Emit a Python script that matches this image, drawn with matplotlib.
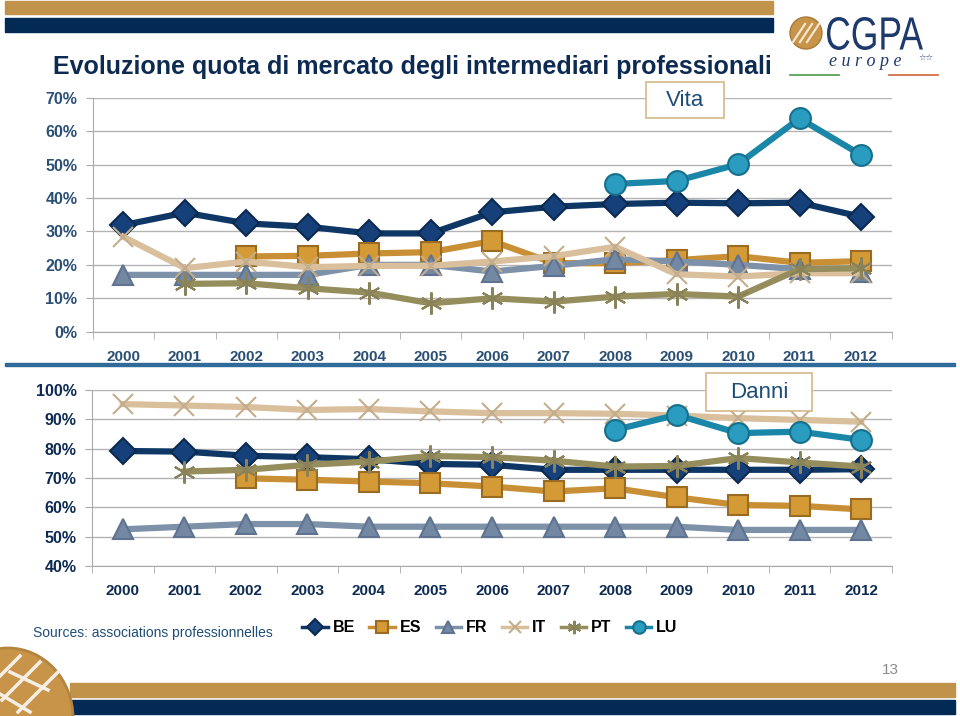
import numpy as np
import matplotlib
matplotlib.use("Agg")
import matplotlib.pyplot as plt
from matplotlib.patches import Rectangle, Ellipse, PathPatch
from matplotlib.textpath import TextPath
from matplotlib.font_manager import FontProperties
from matplotlib.transforms import Affine2D

plt.rcParams['font.family'] = ['Liberation Sans', 'DejaVu Sans']

years = [str(y) for y in range(2000, 2013)]
nan = np.nan

# Vita (quota %)
vita_be = [31.9, 35.6, 32.4, 31.4, 29.4, 29.4, 35.7, 37.4, 38.2, 38.6, 38.4, 38.6, 34.4]
vita_es = [nan, nan, 22.5, 22.7, 23.4, 23.8, 27.1, 20.5, 20.5, 21.4, 22.6, 20.6, 21.1]
vita_fr = [17.0, 17.0, 17.0, 17.0, 20.0, 20.0, 18.0, 19.7, 21.7, 21.0, 20.0, 18.7, 18.0]
vita_it = [28.4, 19.0, 21.0, 19.3, 19.7, 19.7, 21.0, 22.6, 25.4, 17.2, 16.5, 17.5, 17.5]
vita_pt = [nan, 14.3, 14.5, 13.0, 11.7, 8.5, 10.0, 9.0, 10.5, 11.3, 10.5, 18.7, 19.0]
vita_lu = [nan, nan, nan, nan, nan, nan, nan, nan, 44.2, 45.1, 50.1, 63.8, 52.9]

# Danni (quota %)
danni_be = [79.2, 79.0, 77.6, 77.1, 76.4, 74.8, 74.5, 72.8, 72.8, 72.8, 72.8, 72.8, 73.0]
danni_es = [nan, nan, 69.9, 69.4, 68.8, 68.2, 67.1, 65.4, 66.5, 63.4, 60.8, 60.5, 59.3]
danni_fr = [52.5, 53.4, 54.3, 54.3, 53.4, 53.4, 53.4, 53.4, 53.4, 53.4, 52.3, 52.3, 52.3]
danni_it = [95.2, 94.7, 94.2, 93.2, 93.5, 92.7, 92.1, 92.1, 91.9, 91.3, 90.4, 89.8, 89.2]
danni_pt = [nan, 72.2, 72.8, 74.5, 75.6, 77.5, 77.1, 75.9, 73.9, 74.1, 76.8, 75.3, 73.9]
danni_lu = [nan, nan, nan, nan, nan, nan, nan, nan, 86.4, 91.5, 85.3, 85.8, 83.0]

countries = ['BE', 'ES', 'FR', 'IT', 'PT', 'LU']

# stile delle serie
styles = {
    'BE': dict(color='#0f3766', marker='D', ms=13, mfc='#16407a', mec='#0b2a4f'),
    'ES': dict(color='#c88f35', marker='s', ms=14, mfc='#d49a35', mec='#9a6b22'),
    'FR': dict(color='#7d91a8', marker='^', ms=15, mfc='#7388a2', mec='#5f7390'),
    'IT': dict(color='#d9bf9b', marker='x', ms=14, mfc='#cdb796', mec='#c4ad8c'),
    'PT': dict(color='#958d5b', marker=(6, 2, 0), ms=16, mfc='#8a8258', mec='#8a8258'),
    'LU': dict(color='#1b87a8', marker='o', ms=15, mfc='#2a9cc0', mec='#16708d'),
}

navy = '#0d2b52'
gold = '#c0924a'

fig = plt.figure(figsize=(9.6, 7.16), dpi=100)
W, H = 960, 716


def fx(x):
    return x / W


def fy(y):
    return 1 - y / H


def bar(x0, y0, x1, y1, color):
    fig.patches.append(Rectangle((fx(x0), fy(y1)), (x1 - x0) / W, (y1 - y0) / H,
                                 transform=fig.transFigure, color=color, zorder=-2))


# decorazioni della pagina
bar(5, 1, 773, 14, gold)
bar(5, 18, 773, 32, '#022a55')
bar(70, 683, 955, 697, gold)
bar(70, 700, 955, 714, '#022a55')
bar(5, 363, 955, 366, '#2f6a98')

# logo in alto
fig.patches.append(Ellipse((fx(806), fy(33)), 32 / W, 32 / H, transform=fig.transFigure,
                           facecolor='#c8944a', edgecolor='#a87a3a', lw=1, zorder=1))
for dx in (-7, 0, 7):
    fig.lines.append(plt.Line2D([fx(806 + dx - 6), fx(806 + dx + 6)], [fy(42), fy(24)],
                                transform=fig.transFigure, color='#f3e6cf', lw=1.6, zorder=2))
tp = TextPath((0, 0), 'CGPA', size=1, prop=FontProperties(family='Liberation Sans'))
ext = tp.get_extents()
sx = (923 - 827) / ext.width / W
sy = (50 - 17) / ext.height / H
tr = Affine2D().translate(-ext.x0, -ext.y0).scale(sx, sy).translate(fx(827), fy(50))
fig.patches.append(PathPatch(tr.transform_path(tp), transform=fig.transFigure,
                             facecolor='#1e3a6c', edgecolor='none', zorder=2))
fig.text(fx(829), fy(62), 'e u r o p e', fontsize=13, color='#1e3a6c', style='italic',
         family='Liberation Serif', va='center', ha='left')
fig.text(fx(918), fy(58), '☆☆', fontsize=6, color='#1e3a6c', va='center', ha='left',
         family='DejaVu Sans')
fig.lines.append(plt.Line2D([fx(790), fx(839)], [fy(75), fy(75)], transform=fig.transFigure,
                            color='#4a9a4a', lw=1.2))
fig.lines.append(plt.Line2D([fx(889), fx(938)], [fy(75), fy(75)], transform=fig.transFigure,
                            color='#d0643a', lw=1.2))

# logo in basso a sinistra (parziale)
fig.patches.append(Ellipse((fx(8), fy(718)), 130 / W, 140 / H, transform=fig.transFigure,
                           facecolor='#c8944a', edgecolor='#b5843f', lw=2, zorder=3))
for (xa, ya, xb, yb) in [(2, 700, 40, 662), (18, 712, 58, 672), (0, 676, 20, 656),
                         (10, 672, 48, 690), (0, 694, 30, 712)]:
    fig.lines.append(plt.Line2D([fx(xa), fx(xb)], [fy(ya), fy(yb)], transform=fig.transFigure,
                                color='#f6efe4', lw=2.5, zorder=4))

fig.text(fx(53), fy(67), 'Evoluzione quota di mercato degli intermediari professionali',
         fontsize=18, fontweight='bold', color=navy, va='center', ha='left')


def draw_panel(ax, data, ylim, tick_color, pad):
    x = np.arange(len(years))
    for c in countries:
        st = styles[c]
        ax.plot(x, data[c], color=st['color'], lw=4.5, marker=st['marker'], ms=st['ms'],
                mfc=st['mfc'], mec=st['mec'], mew=1.5, label=c, zorder=3,
                solid_joinstyle='round')
    ax.set_xlim(-0.5, len(years) - 0.5)
    ax.set_ylim(*ylim)
    ax.set_yticks(np.arange(ylim[0], ylim[1] + 1, 10))
    ax.set_yticklabels([f'{int(v)}%' for v in ax.get_yticks()], fontsize=11.5,
                       fontweight='bold', color=tick_color)
    ax.set_xticks(x)
    ax.set_xticklabels(years, fontsize=11, fontweight='bold', color=tick_color)
    ax.set_xticks(np.arange(-0.5, len(years)), minor=True)
    ax.tick_params(axis='x', which='major', length=0, pad=pad)
    ax.tick_params(axis='x', which='minor', length=5, color='#aaaaaa')
    ax.tick_params(axis='y', length=5, color='#aaaaaa', pad=6)
    ax.grid(axis='y', color='#b3b3b3', lw=1)
    ax.set_axisbelow(True)
    for s in ['top', 'right']:
        ax.spines[s].set_visible(False)
    ax.spines['left'].set_color('#aaaaaa')
    ax.spines['bottom'].set_color('#aaaaaa')
    return ax


ax1 = fig.add_axes([fx(92.7), fy(331.7), 799 / W, 234 / H])
draw_panel(ax1, dict(BE=vita_be, ES=vita_es, FR=vita_fr, IT=vita_it, PT=vita_pt, LU=vita_lu),
           (0, 70), '#2b5075', 13)
ax2 = fig.add_axes([fx(92), fy(566), 800 / W, 176 / H])
draw_panel(ax2, dict(BE=danni_be, ES=danni_es, FR=danni_fr, IT=danni_it, PT=danni_pt, LU=danni_lu),
           (40, 100), '#0d2b52', 13)

# riquadri Vita / Danni
for (x0, y0, x1, y1, txt) in [(646, 82, 724, 118, 'Vita'), (706, 373, 812, 411, 'Danni')]:
    fig.patches.append(Rectangle((fx(x0), fy(y1)), (x1 - x0) / W, (y1 - y0) / H,
                                 transform=fig.transFigure, facecolor='white',
                                 edgecolor='#d2b98a', lw=1.2, zorder=5))
    fig.text(fx((x0 + x1) / 2), fy((y0 + y1) / 2 + 1), txt, fontsize=16, color='#1e4d78',
             ha='center', va='center', zorder=6)

fig.text(fx(33), fy(633), 'Sources: associations professionnelles', fontsize=10,
         color='#1e4d78', va='center', ha='left')

handles, labels = ax1.get_legend_handles_labels()
leg = fig.legend(handles, labels, loc='center left', bbox_to_anchor=(fx(288), fy(628)),
                 ncol=6, frameon=False, fontsize=11.5, handlelength=1.6, handletextpad=0.3,
                 columnspacing=0.9, markerscale=0.6)
for t in leg.get_texts():
    t.set_fontweight('bold')
for h in leg.legend_handles:
    h.set_linewidth(2.5)

fig.text(fx(890), fy(670), '13', fontsize=11, color='#8a8a8a', ha='center', va='center')

fig.savefig('out.png', dpi=100)
